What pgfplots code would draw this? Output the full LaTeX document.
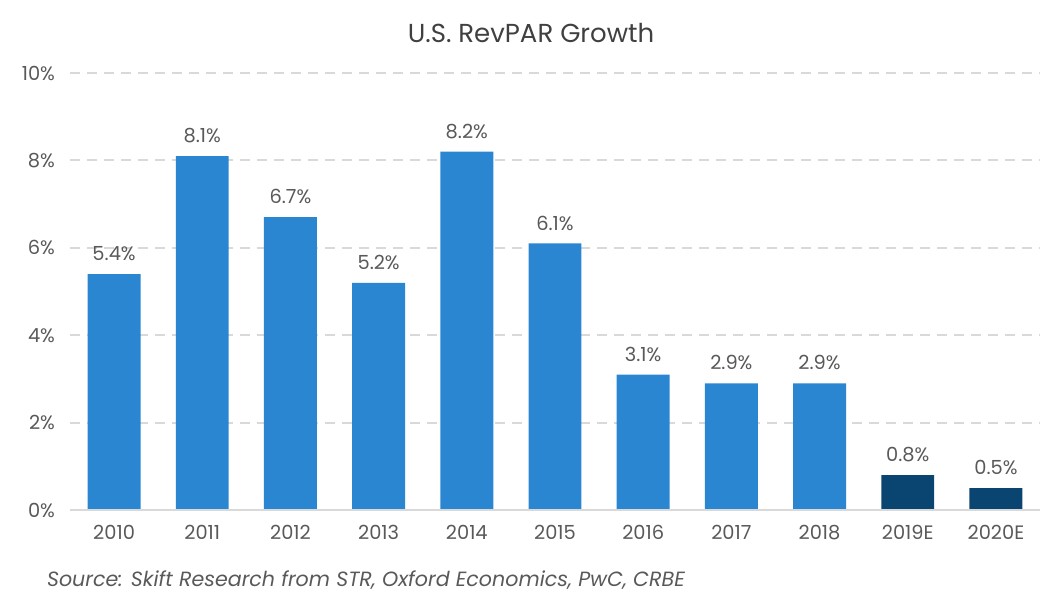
\documentclass[border=0pt]{standalone}
\usepackage{pgfplots}
\pgfplotsset{compat=1.18}
\usepackage{fontspec}
\setmainfont{Poppins}
\definecolor{barblue}{HTML}{2A86D1}
\definecolor{bardark}{HTML}{0A4571}
\definecolor{txt}{HTML}{595959}
\definecolor{gridc}{HTML}{D9D9D9}
\begin{document}
\begin{tikzpicture}
\useasboundingbox (-35bp,-48.5bp) rectangle (496.5bp,255bp);
\begin{axis}[
  at={(0,0)}, anchor=south west,
  scale only axis, width=485bp, height=218.5bp,
  xmin=-0.5, xmax=10.5, ymin=0, ymax=10,
  axis line style={draw=none},
  xtick={0,...,10},
  xticklabels={2010,2011,2012,2013,2014,2015,2016,2017,2018,2019E,2020E},
  ytick={0,2,4,6,8,10},
  yticklabels={0\%,2\%,4\%,6\%,8\%,10\%},
  major tick length=0pt,
  ticklabel style={font=\fontsize{9.7bp}{11bp}\selectfont, text=txt},
  xticklabel style={yshift=-4bp},
  yticklabel style={xshift=-4bp},
  ymajorgrids, grid style={gridc, line width=1bp, dash pattern=on 5bp off 3.5bp},
  ybar, bar width=0.6, bar shift=0,
  nodes near coords={\pgfmathprintnumber[fixed,precision=1,fixed zerofill,assume math mode=true]{\pgfplotspointmeta}\%},
  nodes near coords style={font=\fontsize{9.7bp}{11bp}\selectfont, text=txt, yshift=3bp},
  clip=false,
]
\addplot[fill=barblue, draw=none] coordinates {(0,5.4) (1,8.1) (2,6.7) (3,5.2) (4,8.2) (5,6.1) (6,3.1) (7,2.9) (8,2.9)};
\addplot[fill=bardark, draw=none] coordinates {(9,0.8) (10,0.5)};
\draw[gridc, line width=1.2bp] (axis cs:-0.5,0) -- (axis cs:10.5,0);
\end{axis}
\node[text=black!75, font=\fontsize{13bp}{15bp}\selectfont] at (230.5bp,238.5bp) {U.S. RevPAR Growth};
\node[anchor=west, text=txt, font=\fontsize{10.3bp}{12bp}\selectfont\itshape] at (-15bp,-35bp) {Source: Skift Research from STR, Oxford Economics, PwC, CRBE};
\end{tikzpicture}
\end{document}
